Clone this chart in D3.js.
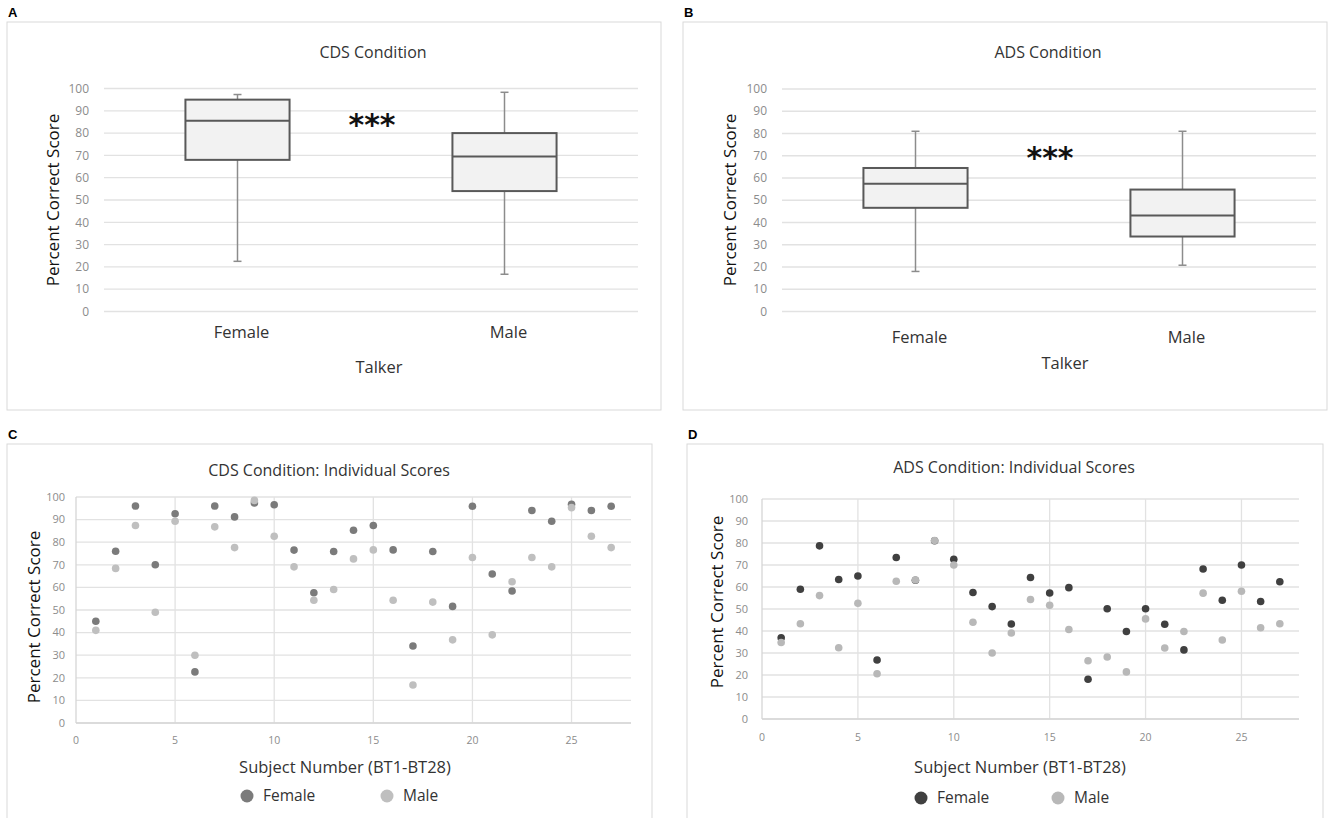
<!DOCTYPE html>
<html>
<head>
<meta charset="utf-8">
<script src="https://cdn.jsdelivr.net/npm/d3@7"></script>
<style>
  html, body { margin: 0; padding: 0; background: #fff; }
  svg { display: block; font-family: "Open Sans", Lato, sans-serif; }
</style>
</head>
<body>
<svg id="chart" width="1334" height="818"></svg>
<script>
// ---------- DATA ----------
const talkers = ["Female", "Male"];
const yTicks = [0, 10, 20, 30, 40, 50, 60, 70, 80, 90, 100];
const xTicksScatter = [0, 5, 10, 15, 20, 25];

// Box plot summaries: [min, q1, median, q3, max]
const cdsBoxFemale = [22.5, 68, 85.5, 95, 97.3];
const cdsBoxMale   = [16.7, 54, 69.5, 80, 98.3];
const adsBoxFemale = [18, 46.6, 57.4, 64.5, 81];
const adsBoxMale   = [20.8, 33.7, 43.2, 54.8, 81];

// Significance marker level (y value)
const cdsStarLevel = 87;
const adsStarLevel = 72.5;

// Individual scores, subjects 1..27
const subjects = [1,2,3,4,5,6,7,8,9,10,11,12,13,14,15,16,17,18,19,20,21,22,23,24,25,26,27];
const cdsFemale = [45, 76, 96, 70, 92.6, 22.6, 96, 91.2, 97.4, 96.6, 76.5, 57.6, 75.9, 85.3, 87.4, 76.6, 34.1, 75.9, 51.6, 95.9, 65.9, 58.4, 94, 89.3, 96.8, 94, 95.9];
const cdsMale   = [41, 68.4, 87.4, 49, 89.3, 30, 86.8, 77.6, 98.5, 82.6, 69.1, 54.3, 59.1, 72.6, 76.6, 54.3, 16.8, 53.5, 36.8, 73.2, 39, 62.5, 73.2, 69.1, 95.3, 82.6, 77.6];
const adsFemale = [36.9, 59, 78.7, 63.4, 65, 26.8, 73.4, 63.1, 81, 72.6, 57.5, 51.1, 43.2, 64.3, 57.3, 59.7, 18.1, 50.1, 39.8, 50.1, 43.1, 31.4, 68.2, 54, 70, 53.4, 62.4];
const adsMale   = [34.8, 43.3, 56.1, 32.4, 52.6, 20.6, 62.6, 63.2, 81.1, 70, 44, 30, 39.1, 54.3, 51.7, 40.7, 26.5, 28.2, 21.4, 45.5, 32.3, 39.8, 57.2, 35.9, 58.1, 41.5, 43.3];

// ---------- DRAW ----------
const svg = d3.select("#chart");

function frame(x0, y0, x1, y1, label) {
  svg.append("rect").attr("x", x0).attr("y", y0).attr("width", x1 - x0).attr("height", y1 - y0)
    .attr("fill", "#fff").attr("stroke", "#d9d9d9").attr("stroke-width", 1);
  svg.append("text").attr("x", x0 + 1).attr("y", y0 - 5).text(label)
    .attr("font-family", "Liberation Sans, Arial, sans-serif")
    .attr("font-weight", "bold").attr("font-size", 13).attr("fill", "#000");
}

function yGrid(g, y, xr, labelX, fs) {
  g.selectAll(".grid").data(yTicks).join("line")
    .attr("x1", xr[0]).attr("x2", xr[1])
    .attr("y1", d => y(d)).attr("y2", d => y(d))
    .attr("stroke", "#e2e2e2").attr("stroke-width", 1.3);
  g.selectAll(".ytl").data(yTicks).join("text")
    .attr("x", labelX).attr("y", d => y(d)).attr("dy", "0.35em")
    .attr("text-anchor", "end").attr("font-size", fs).attr("fill", "#8c8c8c")
    .text(d => d);
}

function boxPanel(cfg) {
  frame(cfg.frame[0], cfg.frame[1], cfg.frame[2], cfg.frame[3], cfg.label);
  const g = svg.append("g");
  const y = d3.scaleLinear().domain([0, 100]).range(cfg.yRange);
  const x = d3.scaleBand().domain(talkers).range(cfg.xRange);
  yGrid(g, y, cfg.xRange, cfg.yLabelX, 12);

  const bw = x.bandwidth() * 0.39;
  const cx = t => x(t) + x.bandwidth() / 2;
  const boxes = talkers.map((t, i) => ({ t, s: cfg.boxes[i] }));
  const bg = g.selectAll(".box").data(boxes).join("g");
  bg.append("line")
    .attr("x1", d => cx(d.t)).attr("x2", d => cx(d.t))
    .attr("y1", d => y(d.s[0])).attr("y2", d => y(d.s[1]))
    .attr("stroke", "#8c8c8c").attr("stroke-width", 1.5);
  bg.append("line")
    .attr("x1", d => cx(d.t)).attr("x2", d => cx(d.t))
    .attr("y1", d => y(d.s[3])).attr("y2", d => y(d.s[4]))
    .attr("stroke", "#8c8c8c").attr("stroke-width", 1.5);
  [0, 4].forEach(k => {
    bg.append("line")
      .attr("x1", d => cx(d.t) - 4).attr("x2", d => cx(d.t) + 4)
      .attr("y1", d => y(d.s[k])).attr("y2", d => y(d.s[k]))
      .attr("stroke", "#8c8c8c").attr("stroke-width", 1.5);
  });
  bg.append("rect")
    .attr("x", d => cx(d.t) - bw / 2).attr("width", bw)
    .attr("y", d => y(d.s[3])).attr("height", d => y(d.s[1]) - y(d.s[3]))
    .attr("fill", "#f2f2f2").attr("stroke", "#595959").attr("stroke-width", 2);
  bg.append("line")
    .attr("x1", d => cx(d.t) - bw / 2).attr("x2", d => cx(d.t) + bw / 2)
    .attr("y1", d => y(d.s[2])).attr("y2", d => y(d.s[2]))
    .attr("stroke", "#595959").attr("stroke-width", 2);

  g.selectAll(".cat").data(talkers).join("text")
    .attr("x", d => cx(d) + 4).attr("y", cfg.catY).attr("dy", "0.35em")
    .attr("text-anchor", "middle").attr("font-size", 16.5).attr("fill", "#333").text(d => d);

  g.append("text").attr("x", (cfg.xRange[0] + cfg.xRange[1]) / 2 + 1).attr("y", y(cfg.star) + 18)
    .attr("text-anchor", "middle").attr("font-family", "DejaVu Sans, sans-serif")
    .attr("font-weight", "bold").attr("font-size", 30).attr("fill", "#111").text("***");

  g.append("text").attr("x", cfg.titleX).attr("y", cfg.titleY).attr("dy", "0.35em")
    .attr("text-anchor", "middle").attr("font-size", 16).attr("fill", "#333").text(cfg.title);
  g.append("text").attr("x", cfg.xTitleX).attr("y", cfg.xTitleY).attr("dy", "0.35em")
    .attr("text-anchor", "middle").attr("font-size", 16.5).attr("fill", "#333").text("Talker");
  g.append("text").attr("transform", `translate(${cfg.yTitleX},${cfg.yTitleY}) rotate(-90)`)
    .attr("dy", "0.35em").attr("text-anchor", "middle").attr("font-size", 17)
    .attr("fill", "#111").text("Percent Correct Score");
}

function scatterPanel(cfg) {
  frame(cfg.frame[0], cfg.frame[1], cfg.frame[2], cfg.frame[3], cfg.label);
  const g = svg.append("g");
  const y = d3.scaleLinear().domain([0, 100]).range(cfg.yRange);
  const x = d3.scaleLinear().domain([0, 28]).range(cfg.xRange);
  yGrid(g, y, cfg.xRange, cfg.yLabelX, 11);
  g.selectAll(".vg").data(xTicksScatter).join("line")
    .attr("x1", d => x(d)).attr("x2", d => x(d))
    .attr("y1", cfg.yRange[0]).attr("y2", cfg.yRange[1])
    .attr("stroke", d => d === 0 ? "#d6d6d6" : "#e2e2e2").attr("stroke-width", 1.3);
  g.append("line").attr("x1", cfg.xRange[0]).attr("x2", cfg.xRange[1])
    .attr("y1", cfg.yRange[0]).attr("y2", cfg.yRange[0]).attr("stroke", "#d6d6d6").attr("stroke-width", 1.3);
  g.selectAll(".xtl").data(xTicksScatter).join("text")
    .attr("x", d => x(d)).attr("y", cfg.xLabelY).attr("dy", "0.35em")
    .attr("text-anchor", "middle").attr("font-size", 10.5).attr("fill", "#8c8c8c").text(d => d);

  const series = [
    { vals: cfg.female, color: cfg.fColor },
    { vals: cfg.male, color: cfg.mColor }
  ];
  series.forEach(s => {
    g.append("g").selectAll("circle").data(subjects.map((sub, i) => [sub, s.vals[i]])).join("circle")
      .attr("cx", d => x(d[0])).attr("cy", d => y(d[1])).attr("r", 3.8).attr("fill", s.color);
  });

  g.append("text").attr("x", cfg.titleX).attr("y", cfg.titleY).attr("dy", "0.35em")
    .attr("text-anchor", "middle").attr("font-size", 16).attr("fill", "#333").text(cfg.title);
  g.append("text").attr("x", cfg.xTitleX).attr("y", cfg.xTitleY).attr("dy", "0.35em")
    .attr("text-anchor", "middle").attr("font-size", 16.5).attr("fill", "#333").text("Subject Number (BT1-BT28)");
  g.append("text").attr("transform", `translate(${cfg.yTitleX},${cfg.yTitleY}) rotate(-90)`)
    .attr("dy", "0.35em").attr("text-anchor", "middle").attr("font-size", 17)
    .attr("fill", "#111").text("Percent Correct Score");

  const leg = [
    { name: talkers[0], color: cfg.fColor, x: cfg.legX[0] },
    { name: talkers[1], color: cfg.mColor, x: cfg.legX[1] }
  ];
  leg.forEach(l => {
    g.append("circle").attr("cx", l.x).attr("cy", cfg.legY).attr("r", 6.5).attr("fill", l.color);
    g.append("text").attr("x", l.x + 16).attr("y", cfg.legY).attr("dy", "0.35em")
      .attr("font-size", 15.5).attr("fill", "#333").text(l.name);
  });
}

boxPanel({
  label: "A", frame: [7, 22, 661, 410], title: "CDS Condition", titleX: 373, titleY: 52,
  yRange: [311.5, 88.5], xRange: [104, 638], yLabelX: 89,
  boxes: [cdsBoxFemale, cdsBoxMale], star: cdsStarLevel,
  catY: 332, xTitleX: 379, xTitleY: 367, yTitleX: 53, yTitleY: 200
});
boxPanel({
  label: "B", frame: [683, 22, 1327, 410], title: "ADS Condition", titleX: 1048, titleY: 52,
  yRange: [311.5, 89], xRange: [782, 1316], yLabelX: 767,
  boxes: [adsBoxFemale, adsBoxMale], star: adsStarLevel,
  catY: 337, xTitleX: 1065, xTitleY: 363, yTitleX: 730, yTitleY: 200
});
scatterPanel({
  label: "C", frame: [7, 444, 652, 820], title: "CDS Condition: Individual Scores", titleX: 329, titleY: 470,
  yRange: [723, 497], xRange: [76, 631], yLabelX: 65, xLabelY: 740,
  female: cdsFemale, male: cdsMale, fColor: "#7b7b7b", mColor: "#bfbfbf",
  xTitleX: 345, xTitleY: 767, yTitleX: 34, yTitleY: 617, legX: [247, 387], legY: 796
});
scatterPanel({
  label: "D", frame: [687, 444, 1323, 820], title: "ADS Condition: Individual Scores", titleX: 1014, titleY: 467,
  yRange: [719, 499], xRange: [762, 1299], yLabelX: 748, xLabelY: 737,
  female: adsFemale, male: adsMale, fColor: "#404040", mColor: "#b8b8b8",
  xTitleX: 1020, xTitleY: 767, yTitleX: 717, yTitleY: 602, legX: [921, 1058], legY: 798
});
</script>
</body>
</html>
